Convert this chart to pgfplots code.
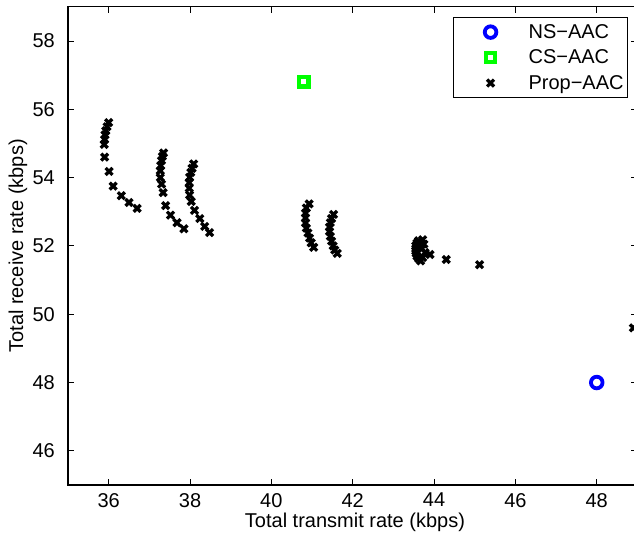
\documentclass[border=0pt]{standalone}
\usepackage{fontspec}
\setmainfont{Liberation Sans}
\usepackage{pgfplots}
\pgfplotsset{compat=1.18}
\newcommand\f{\fontsize{20}{24}\selectfont}
\pgfplotsset{myleg/.style={legend image code/.code={\path[draw=none,fill=none] (0pt,-4pt) rectangle (71pt,4pt);\draw[mark repeat=2,mark phase=2,##1] plot coordinates {(0pt,0pt) (35pt,0pt) (71pt,0pt)};}}}
\begin{document}
\begin{tikzpicture}
\begin{axis}[
  at={(0,0)}, anchor=south west,
  scale only axis, width=569.4pt, height=478.2pt,
  xmin=35, xmax=49, ymin=45, ymax=59,
  xtick={36,38,...,48}, ytick={46,48,...,58},
  tick align=inside, major tick length=6pt,
  axis line style={line width=1.1pt}, every tick/.style={line width=0.8pt, black},
  /pgf/number format/assume math mode=true,
  tick label style={font=\f},
  yticklabel style={inner xsep=0pt, xshift=-13pt},
  xticklabel style={inner ysep=0pt, yshift=-8pt},
  xlabel={Total transmit rate (kbps)}, ylabel={Total receive rate (kbps)},
  label style={font=\f},
  xlabel style={at={(axis description cs:0.504,-0.0774)}, anchor=center},
  ylabel style={at={(axis description cs:-0.0878,0.5)}, anchor=center},
  legend style={at={(0.9835,0.9787)}, anchor=north east, font=\f, draw=black, line width=0.8pt,
    inner xsep=2pt, inner ysep=5pt, row sep=6pt, cells={anchor=west}},
]
\addplot[only marks, myleg, mark=o, mark size=5.8pt, draw=blue, mark options={line width=3.8pt, draw=blue}] coordinates {(48,48)};
\addlegendentry{NS−AAC}
\addplot[only marks, myleg, mark=square, mark size=4.6pt, draw=green, mark options={line width=4.2pt, draw=green}] coordinates {(40.8,56.8)};
\addlegendentry{CS−AAC}
\addplot[only marks, myleg, mark=x, mark size=4.9pt, draw=black, mark options={line width=3.3pt, draw=black}] table {
x y
36.00 55.61
35.96 55.49
35.93 55.37
35.91 55.25
35.90 55.12
35.89 54.97
35.90 54.60
36.01 54.18
36.11 53.75
36.31 53.47
36.50 53.27
36.70 53.10
37.35 54.72
37.32 54.62
37.30 54.50
37.28 54.35
37.27 54.20
37.27 54.00
37.30 53.81
37.34 53.56
37.40 53.18
37.52 52.90
37.68 52.68
37.85 52.50
38.09 54.40
38.05 54.27
38.02 54.15
37.99 54.01
37.98 53.85
37.98 53.69
37.99 53.49
38.03 53.30
38.11 53.04
38.24 52.80
38.36 52.57
38.48 52.39
40.93 53.23
40.86 53.11
40.84 52.96
40.84 52.82
40.84 52.67
40.86 52.52
40.90 52.38
40.94 52.23
40.98 52.09
41.04 51.96
41.53 52.92
41.48 52.80
41.45 52.68
41.43 52.55
41.43 52.42
41.45 52.28
41.48 52.14
41.52 52.00
41.56 51.88
41.62 51.78
43.72 52.18
43.62 52.15
43.58 52.08
43.55 52.00
43.55 51.92
43.55 51.85
43.56 51.78
43.58 51.70
43.62 51.63
43.67 51.56
43.72 51.66
43.78 51.80
43.70 51.92
43.75 52.05
43.90 51.75
44.30 51.60
45.12 51.45
48.90 49.60
};
\addlegendentry{Prop−AAC}
\end{axis}
\pgfresetboundingbox
\useasboundingbox (-68pt,-56pt) rectangle (566pt,485pt);
\end{tikzpicture}
\end{document}
